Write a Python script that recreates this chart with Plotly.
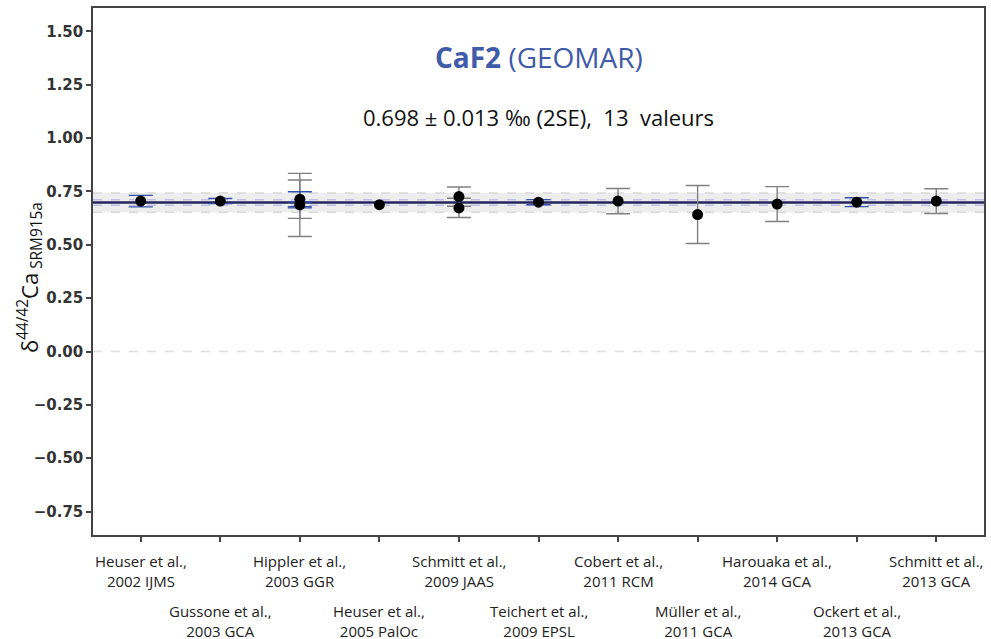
import plotly.graph_objects as go

# Reference publications (one slot on the x axis each)
references = [
    "Heuser et al.,<br>2002 IJMS",
    "Gussone et al.,<br>2003 GCA",
    "Hippler et al.,<br>2003 GGR",
    "Heuser et al.,<br>2005 PalOc",
    "Schmitt et al.,<br>2009 JAAS",
    "Teichert et al.,<br>2009 EPSL",
    "Cobert et al.,<br>2011 RCM",
    "Müller et al.,<br>2011 GCA",
    "Harouaka et al.,<br>2014 GCA",
    "Ockert et al.,<br>2013 GCA",
    "Schmitt et al.,<br>2013 GCA",
]

# Individual published values (index into references)
point_ref = [0, 1, 2, 2, 3, 4, 4, 5, 6, 7, 8, 9, 10]
delta_values = [0.705, 0.705, 0.714, 0.687, 0.688, 0.726, 0.673,
                0.700, 0.705, 0.642, 0.691, 0.700, 0.705]
# Uncertainties: internal (blue bars) and external (grey bars); None = not reported
err_internal = [0.027, 0.012, 0.035, 0.014, None, None, None,
                0.012, None, None, None, 0.021, None]
err_external = [None, None, 0.090, 0.148, None, 0.045, 0.045,
                None, 0.059, 0.136, 0.082, None, 0.058]

# Summary statistics
mean_value = 0.698
mean_2se = 0.013
spread_2sd = 0.045
n_values = 13

y_ticks = [-0.75, -0.5, -0.25, 0.0, 0.25, 0.5, 0.75, 1.0, 1.25, 1.5]

BLUE = "#3f5ba9"
GREY_ERR = "#808080"
BLUE_ERR = "#3550a8"
TEXT_FONT = "Open Sans"

fig = go.Figure()


def error_trace(errs, color):
    xs, ys, es = [], [], []
    for r, v, e in zip(point_ref, delta_values, errs):
        if e is not None:
            xs.append(r)
            ys.append(v)
            es.append(e)
    return go.Scatter(
        x=xs, y=ys, mode="markers",
        marker=dict(size=1, opacity=0),
        error_y=dict(type="data", array=es, visible=True,
                     color=color, thickness=1.4, width=12),
        hoverinfo="skip", showlegend=False,
    )


fig.add_trace(error_trace(err_external, GREY_ERR))
fig.add_trace(error_trace(err_internal, BLUE_ERR))
fig.add_trace(go.Scatter(
    x=point_ref, y=delta_values, mode="markers",
    marker=dict(size=11, color="black"),
    showlegend=False,
))

# 2SD band, 2SE lines, mean line and zero line
fig.add_shape(type="rect", xref="paper", yref="y", x0=0, x1=1,
              y0=mean_value - spread_2sd, y1=mean_value + spread_2sd,
              fillcolor="rgba(0,0,0,0.07)", line_width=0, layer="below")
for off in (-spread_2sd, spread_2sd):
    fig.add_shape(type="line", xref="paper", yref="y", x0=0, x1=1,
                  y0=mean_value + off, y1=mean_value + off,
                  line=dict(color="#d8d8d8", width=1.5, dash="dash"), layer="below")
for off in (-mean_2se, mean_2se):
    fig.add_shape(type="line", xref="paper", yref="y", x0=0, x1=1,
                  y0=mean_value + off, y1=mean_value + off,
                  line=dict(color="rgba(110,110,220,0.35)", width=1.5, dash="dash"),
                  layer="below")
fig.add_shape(type="line", xref="paper", yref="y", x0=0, x1=1,
              y0=mean_value, y1=mean_value,
              line=dict(color="#24245e", width=2.5), layer="below")
fig.add_shape(type="line", xref="paper", yref="y", x0=0, x1=1,
              y0=0, y1=0,
              line=dict(color="#dedede", width=1.5, dash="dash"), layer="below")

# Title and summary
fig.add_annotation(xref="paper", yref="paper", x=0.5, y=0.907,
                   text="<b>CaF2</b> (GEOMAR)", showarrow=False,
                   font=dict(family=TEXT_FONT, size=28, color=BLUE),
                   xanchor="center", yanchor="middle")
fig.add_annotation(xref="paper", yref="paper", x=0.5, y=0.793,
                   text=f"{mean_value:.3f} ± {mean_2se:.3f} ‰ (2SE),  {n_values}  valeurs",
                   showarrow=False,
                   font=dict(family=TEXT_FONT, size=22, color="#111111"),
                   xanchor="center", yanchor="middle")

# y-axis title
fig.add_annotation(xref="paper", yref="paper", x=-0.0705, y=0.488,
                   text="δ<sup>44/42</sup>Ca<sub> SRM915a</sub>",
                   showarrow=False, textangle=-90,
                   font=dict(family=TEXT_FONT, size=22, color="#111111"),
                   xanchor="center", yanchor="middle")

# Staggered reference labels under the x axis
for i, lab in enumerate(references):
    fig.add_annotation(xref="x", yref="paper", x=i,
                       y=-0.027 if i % 2 == 0 else -0.121,
                       text=lab, showarrow=False,
                       font=dict(family=TEXT_FONT, size=15, color="#222222"),
                       xanchor="center", yanchor="top", align="center")

fig.update_xaxes(
    range=[-0.6, len(references) - 1 + 0.6],
    tickvals=list(range(len(references))), showticklabels=False,
    ticks="outside", ticklen=5, tickcolor="#444444", tickwidth=1.5,
    showline=True, linecolor="#444444", linewidth=1.5, mirror=True,
    showgrid=False, zeroline=False,
)
fig.update_yaxes(
    range=[-0.86, 1.61],
    tickvals=y_ticks, tickformat=".2f",
    ticks="outside", ticklen=5, tickcolor="#444444", tickwidth=1.5,
    tickfont=dict(family="DejaVu Sans", size=15, color="#333333", weight="bold"),
    showline=True, linecolor="#444444", linewidth=1.5, mirror=True,
    showgrid=False, zeroline=False,
)

fig.update_layout(
    width=991, height=639,
    margin=dict(l=93, r=5, t=8, b=104),
    plot_bgcolor="white", paper_bgcolor="white",
    showlegend=False,
)

fig.write_html("out.html")
